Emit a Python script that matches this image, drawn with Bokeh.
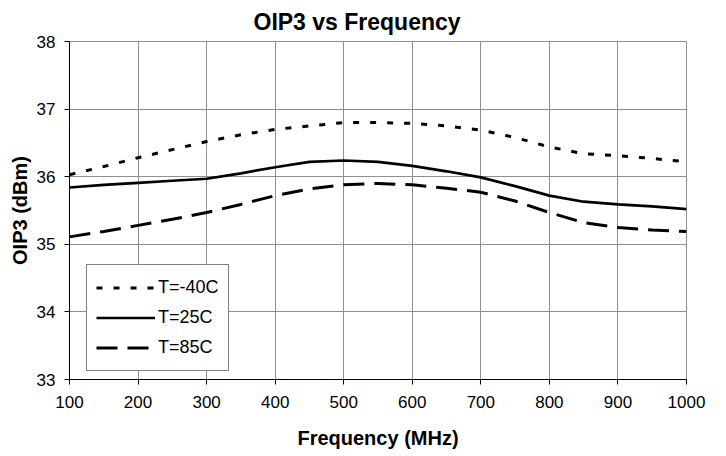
from bokeh.plotting import figure
from bokeh.models import Range1d, FixedTicker, Legend, LegendItem
from bokeh.embed import file_html
from bokeh.resources import INLINE

# Frequency sweep (MHz) and output third-order intercept (dBm) per temperature
freq_mhz = [100, 150, 200, 250, 300, 350, 400, 450, 500, 550,
            600, 650, 700, 750, 800, 850, 900, 950, 1000]
oip3_m40c = [36.03, 36.15, 36.28, 36.40, 36.52, 36.62, 36.70, 36.75, 36.80, 36.80,
             36.79, 36.75, 36.69, 36.58, 36.44, 36.34, 36.31, 36.27, 36.22]
oip3_25c = [35.84, 35.88, 35.91, 35.94, 35.97, 36.05, 36.14, 36.22, 36.24, 36.22,
            36.16, 36.08, 35.99, 35.86, 35.72, 35.63, 35.59, 35.56, 35.52]
oip3_85c = [35.11, 35.19, 35.28, 35.37, 35.47, 35.59, 35.72, 35.82, 35.88, 35.90,
            35.88, 35.83, 35.77, 35.64, 35.47, 35.32, 35.25, 35.21, 35.19]

series_labels = ["T=-40C", "T=25C", "T=85C"]
x_ticks = [100, 200, 300, 400, 500, 600, 700, 800, 900, 1000]
y_ticks = [33, 34, 35, 36, 37, 38]

FONT = "Liberation Sans"
GRID = "#8f8f8f"

p = figure(width=726, height=456, output_backend="svg", toolbar_location=None,
           x_range=Range1d(100, 1000), y_range=Range1d(33, 38),
           min_border_left=69, min_border_right=40,
           min_border_top=40, min_border_bottom=77)

p.title.text = "OIP3 vs Frequency"
p.title.align = "left"
p.title.offset = 184
p.title.standoff = 13
p.title.text_font = FONT
p.title.text_font_size = "23px"
p.title.text_font_style = "bold"
p.title.text_color = "black"

p.background_fill_color = "white"
p.border_fill_color = "white"
p.outline_line_color = GRID
p.outline_line_width = 1

for ax, ticks in ((p.xaxis[0], x_ticks), (p.yaxis[0], y_ticks)):
    ax.ticker = FixedTicker(ticks=ticks)
    ax.axis_line_color = "black"
    ax.axis_line_width = 1
    ax.major_tick_line_color = "black"
    ax.major_tick_in = 0
    ax.major_tick_out = 5
    ax.minor_tick_line_color = None
    ax.major_label_text_font = FONT
    ax.major_label_text_font_size = "17px"
    ax.major_label_text_color = "black"
    ax.axis_label_text_font = FONT
    ax.axis_label_text_font_size = "20px"
    ax.axis_label_text_font_style = "bold"
    ax.axis_label_text_color = "black"

p.xaxis.axis_label = "Frequency (MHz)"
p.yaxis.axis_label = "OIP3 (dBm)"
p.xaxis.major_label_standoff = 11
p.xaxis.axis_label_standoff = 16
p.yaxis.major_label_standoff = 9
p.yaxis.axis_label_standoff = 3

p.xgrid.ticker = FixedTicker(ticks=x_ticks)
p.ygrid.ticker = FixedTicker(ticks=y_ticks)
p.grid.grid_line_color = GRID
p.grid.grid_line_width = 1

r1 = p.line(freq_mhz, oip3_m40c, line_color="black", line_width=3, line_dash="6 11")
r2 = p.line(freq_mhz, oip3_25c, line_color="black", line_width=2.7)
r3 = p.line(freq_mhz, oip3_85c, line_color="black", line_width=3, line_dash="21 10")

legend = Legend(items=[LegendItem(label=series_labels[0], renderers=[r1]),
                       LegendItem(label=series_labels[1], renderers=[r2]),
                       LegendItem(label=series_labels[2], renderers=[r3])],
                location=(17, 8), orientation="vertical",
                padding=9, spacing=3, margin=0,
                glyph_width=59, glyph_height=27, label_height=27,
                label_standoff=3,
                label_text_font=FONT, label_text_font_size="18px",
                label_text_color="black",
                border_line_color="black", border_line_width=1,
                background_fill_color="white", background_fill_alpha=1)
p.add_layout(legend, "center")

open("out.html", "w").write(file_html(p, INLINE))
